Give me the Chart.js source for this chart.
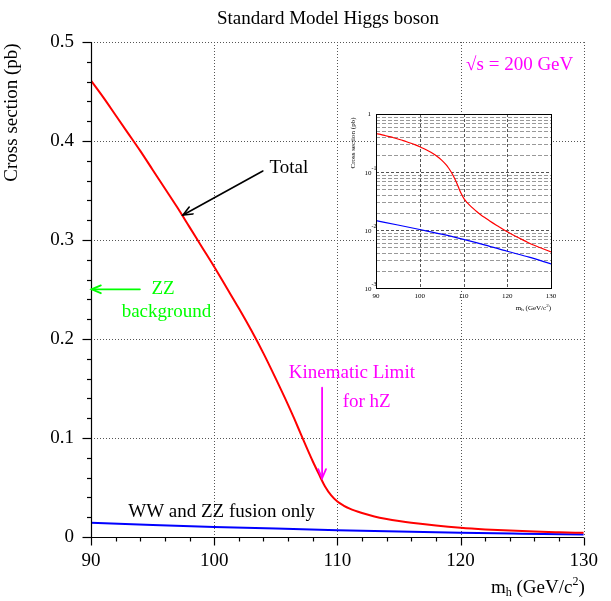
<!DOCTYPE html>
<html>
<head>
<meta charset="utf-8">
<script src="https://cdn.jsdelivr.net/npm/chart.js@4.4.1/dist/chart.umd.min.js"></script>
<style>
html,body{margin:0;padding:0;background:#fff;overflow:hidden;}
#wrap{position:relative;width:611px;height:601px;}
#main{position:absolute;left:0;top:0;}
#inset{position:absolute;left:340px;top:100px;}
</style>
</head>
<body>
<div id="wrap">
<canvas id="main" width="611" height="601"></canvas>
<canvas id="inset" width="220" height="230"></canvas>
</div>
<script>
// ---------------- data ----------------
const massPoints = [90,91,92,93,94,95,96,97,98,99,100,101,102,103,104,105,106,106.5,107,107.5,108,108.5,109,109.5,110,110.5,111,112,113,114,115,116,118,120,122,124,126,128,130];
const totalXS    = [0.461,0.444,0.426,0.408,0.390,0.371,0.352,0.333,0.313,0.293,0.273,0.252,0.231,0.209,0.1855,0.160,0.1335,0.1195,0.105,0.0905,0.0765,0.0635,0.0510,0.0420,0.0358,0.0318,0.0287,0.0243,0.0208,0.0182,0.0161,0.0143,0.0115,0.0093,0.0077,0.0065,0.0055,0.0048,0.0042];
const fusionMass = [90,95,100,105,110,115,120,125,130];
const fusionXS   = [0.0145,0.0122,0.0102,0.0085,0.0069,0.0055,0.0043,0.0034,0.0026];
const xTickValues = [90,100,110,120,130];
const yTickValues = [0,0.1,0.2,0.3,0.4,0.5];
const yTickLabels = ['0','0.1','0.2','0.3','0.4','0.5'];
const insetYTickValues = [1,0.1,0.01,0.001];
const insetYTickExps   = ['','-1','-2','-3'];

const FONT = '"Liberation Serif","Times New Roman",serif';
function pts(xs, ys){ return xs.map((x,i)=>({x:x, y:ys[i]})); }

function drawArrow(ctx,x1,y1,x2,y2,color,lw,headLen,headAng){
  ctx.save();
  ctx.strokeStyle=color; ctx.lineWidth=lw; ctx.lineCap='round'; ctx.lineJoin='miter';
  ctx.beginPath(); ctx.moveTo(x1,y1); ctx.lineTo(x2,y2); ctx.stroke();
  const a=Math.atan2(y2-y1,x2-x1);
  ctx.beginPath();
  ctx.moveTo(x2-headLen*Math.cos(a-headAng), y2-headLen*Math.sin(a-headAng));
  ctx.lineTo(x2,y2);
  ctx.lineTo(x2-headLen*Math.cos(a+headAng), y2-headLen*Math.sin(a+headAng));
  ctx.stroke();
  ctx.restore();
}

// annotations in data coordinates
const mainTexts = [
  {t:'\u221As = 200 GeV', x:120.45, y:0.4722, c:'#ff00ff'},
  {t:'Total', x:104.49, y:0.368, c:'#000'},
  {t:'ZZ', x:94.91, y:0.2455, c:'#00ff00'},
  {t:'background', x:92.49, y:0.2225, c:'#00ff00'},
  {t:'Kinematic Limit', x:106.06, y:0.1603, c:'#ff00ff'},
  {t:'for hZ', x:110.43, y:0.1316, c:'#ff00ff'},
  {t:'WW and ZZ fusion only', x:93.02, y:0.0205, c:'#000'}
];
const mainArrows = [
  {x1:103.95,y1:0.3697,x2:97.47,y2:0.3253,c:'#000',lw:1.6},
  {x1:93.97,y1:0.2502,x2:90.05,y2:0.2502,c:'#00ff00',lw:1.8},
  {x1:108.76,y1:0.1508,x2:108.76,y2:0.0593,c:'#ff00ff',lw:1.8}
];

const mainDecor = {
  id:'mainDecor',
  beforeDatasetsDraw(chart){
    const ctx=chart.ctx, a=chart.chartArea, xs=chart.scales.x, ys=chart.scales.y;
    ctx.save();
    ctx.strokeStyle='#555'; ctx.lineWidth=1; ctx.setLineDash([1,2]);
    xTickValues.forEach(v=>{
      const px=Math.round(xs.getPixelForValue(v))+0.5;
      ctx.beginPath(); ctx.moveTo(px,a.top); ctx.lineTo(px,a.bottom); ctx.stroke();
    });
    yTickValues.forEach(v=>{
      const py=Math.round(ys.getPixelForValue(v))+0.5;
      ctx.beginPath(); ctx.moveTo(a.left,py); ctx.lineTo(a.right,py); ctx.stroke();
    });
    ctx.restore();
  },
  afterDatasetsDraw(chart){
    const ctx=chart.ctx, a=chart.chartArea, xs=chart.scales.x, ys=chart.scales.y;
    ctx.save();
    ctx.strokeStyle='#000'; ctx.lineWidth=1.2; ctx.setLineDash([]);
    const lx=Math.round(a.left)+0.5, by=Math.round(a.bottom)+0.5;
    ctx.beginPath(); ctx.moveTo(lx,a.top); ctx.lineTo(lx,by); ctx.lineTo(a.right,by); ctx.stroke();
    for(let v=90; v<=130.001; v+=2){
      const px=Math.round(xs.getPixelForValue(v))+0.5;
      const major=Math.abs(v%10)<1e-6;
      ctx.beginPath(); ctx.moveTo(px,by); ctx.lineTo(px,by+(major?8:4)); ctx.stroke();
    }
    for(let i=0;i<=25;i++){
      const v=i*0.02;
      const py=Math.round(ys.getPixelForValue(v))+0.5;
      const major=(i%5===0);
      ctx.beginPath(); ctx.moveTo(lx,py); ctx.lineTo(lx-(major?9:4.5),py); ctx.stroke();
    }
    ctx.fillStyle='#000';
    ctx.font='19px '+FONT; ctx.textAlign='center'; ctx.textBaseline='alphabetic';
    ctx.fillText('Standard Model Higgs boson', 328, 24);
    ctx.save(); ctx.translate(16.5, 112.5); ctx.rotate(-Math.PI/2);
    ctx.textAlign='center'; ctx.fillText('Cross section (pb)',0,0); ctx.restore();
    const big='19px '+FONT, small='12px '+FONT;
    ctx.textAlign='left';
    ctx.font=big; const wm=ctx.measureText('m').width;
    ctx.font=small; const wh=ctx.measureText('h').width;
    ctx.font=big; const wg=ctx.measureText(' (GeV/c').width;
    ctx.font=small; const w2=ctx.measureText('2').width;
    ctx.font=big; const wp=ctx.measureText(')').width;
    let x0=a.right+1-(wm+wh+wg+w2+wp); const base=593;
    ctx.font=big; ctx.fillText('m',x0,base); x0+=wm;
    ctx.font=small; ctx.fillText('h',x0,base+3); x0+=wh;
    ctx.font=big; ctx.fillText(' (GeV/c',x0,base); x0+=wg;
    ctx.font=small; ctx.fillText('2',x0,base-8); x0+=w2;
    ctx.font=big; ctx.fillText(')',x0,base);
    ctx.font='19px '+FONT; ctx.textAlign='left'; ctx.textBaseline='alphabetic';
    mainTexts.forEach(o=>{ ctx.fillStyle=o.c; ctx.fillText(o.t, xs.getPixelForValue(o.x), ys.getPixelForValue(o.y)); });
    mainArrows.forEach(o=>{
      drawArrow(ctx, xs.getPixelForValue(o.x1), ys.getPixelForValue(o.y1), xs.getPixelForValue(o.x2), ys.getPixelForValue(o.y2), o.c, o.lw, 10, 0.4);
    });
    ctx.restore();
  }
};

new Chart(document.getElementById('main'), {
  type:'line',
  data:{datasets:[
    {data:pts(massPoints,totalXS), borderColor:'#ff0000', borderWidth:2, pointRadius:0, cubicInterpolationMode:'monotone', fill:false},
    {data:pts(fusionMass,fusionXS), borderColor:'#0000ff', borderWidth:2, pointRadius:0, cubicInterpolationMode:'monotone', fill:false}
  ]},
  options:{
    responsive:false, animation:false, devicePixelRatio:1,
    layout:{padding:{left:0,top:42,right:26,bottom:0}},
    plugins:{legend:{display:false}, tooltip:{enabled:false}, title:{display:false}},
    scales:{
      x:{type:'linear', min:90, max:130,
        afterBuildTicks:s=>{ s.ticks=xTickValues.map(v=>({value:v})); },
        afterFit:s=>{ s.height=64; },
        ticks:{color:'#000', font:{family:FONT,size:19}, padding:13, maxRotation:0, autoSkip:false, callback:v=>String(v)},
        grid:{display:false, drawTicks:false}, border:{display:false}},
      y:{type:'linear', min:0, max:0.5,
        afterBuildTicks:s=>{ s.ticks=yTickValues.map(v=>({value:v})); },
        afterFit:s=>{ s.width=91; },
        ticks:{color:'#000', font:{family:FONT,size:19}, padding:17, autoSkip:false, callback:(v,i)=>yTickLabels[i]},
        grid:{display:false, drawTicks:false}, border:{display:false}}
    }
  },
  plugins:[mainDecor]
});

// ---------------- inset ----------------
const insetDecor = {
  id:'insetDecor',
  beforeDraw(chart){
    const ctx=chart.ctx, a=chart.chartArea;
    ctx.save(); ctx.fillStyle='#fff'; ctx.fillRect(a.left,a.top,a.right-a.left,a.bottom-a.top); ctx.restore();
  },
  beforeDatasetsDraw(chart){
    const ctx=chart.ctx, a=chart.chartArea, xs=chart.scales.x, ys=chart.scales.y;
    ctx.save(); ctx.lineWidth=1;
    [0.001,0.01,0.1].forEach(d=>{
      for(let m=1;m<=9;m++){
        if(m===1 && d===0.001) continue;
        const py=Math.round(ys.getPixelForValue(m*d))+0.5;
        ctx.strokeStyle = m===1 ? '#555' : '#999';
        ctx.setLineDash(m===1?[3,2]:[4,2]);
        ctx.beginPath(); ctx.moveTo(a.left,py); ctx.lineTo(a.right,py); ctx.stroke();
      }
    });
    ctx.strokeStyle='#555'; ctx.setLineDash([3,2]);
    [100,110,120].forEach(v=>{
      const px=Math.round(xs.getPixelForValue(v))+0.5;
      ctx.beginPath(); ctx.moveTo(px,a.top); ctx.lineTo(px,a.bottom); ctx.stroke();
    });
    ctx.restore();
  },
  afterDatasetsDraw(chart){
    const ctx=chart.ctx, a=chart.chartArea, xs=chart.scales.x, ys=chart.scales.y;
    ctx.save();
    ctx.strokeStyle='#000'; ctx.lineWidth=1; ctx.setLineDash([]);
    ctx.strokeRect(Math.round(a.left)+0.5, Math.round(a.top)+0.5, Math.round(a.right-a.left), Math.round(a.bottom-a.top));
    ctx.fillStyle='#000';
    insetYTickValues.forEach((v,i)=>{
      const py=ys.getPixelForValue(v);
      if(insetYTickExps[i]===''){
        ctx.font='7px '+FONT; ctx.textAlign='right'; ctx.textBaseline='middle';
        ctx.fillText('1', a.left-5, py);
      } else {
        ctx.font='7px '+FONT; ctx.textAlign='right'; ctx.textBaseline='middle';
        ctx.fillText('10', a.left-4.5, py+1.5);
        ctx.font='6px '+FONT; ctx.textAlign='left'; ctx.textBaseline='alphabetic';
        ctx.fillText(insetYTickExps[i], a.left-4.5, py-2.2);
      }
    });
    ctx.font='7px '+FONT; ctx.textAlign='center'; ctx.textBaseline='alphabetic';
    xTickValues.forEach(v=>{ ctx.fillText(String(v), xs.getPixelForValue(v), a.bottom+9.5); });
    const big='7px '+FONT, small='5px '+FONT;
    ctx.textAlign='left';
    ctx.font=big; const wm=ctx.measureText('m').width;
    ctx.font=small; const wh=ctx.measureText('h').width;
    ctx.font=big; const wg=ctx.measureText(' (GeV/c').width;
    ctx.font=small; const w2=ctx.measureText('2').width;
    ctx.font=big; const wp=ctx.measureText(')').width;
    let x0=a.right-(wm+wh+wg+w2+wp); const base=a.bottom+22;
    ctx.font=big; ctx.fillText('m',x0,base); x0+=wm;
    ctx.font=small; ctx.fillText('h',x0,base+1.2); x0+=wh;
    ctx.font=big; ctx.fillText(' (GeV/c',x0,base); x0+=wg;
    ctx.font=small; ctx.fillText('2',x0,base-3); x0+=w2;
    ctx.font=big; ctx.fillText(')',x0,base);
    ctx.save(); ctx.translate(15, 43); ctx.rotate(-Math.PI/2);
    ctx.font='7px '+FONT; ctx.textAlign='center'; ctx.fillText('Cross section (pb)',0,0); ctx.restore();
    ctx.restore();
  }
};

new Chart(document.getElementById('inset'), {
  type:'line',
  data:{datasets:[
    {data:pts(massPoints,totalXS), borderColor:'#ff0000', borderWidth:1.2, pointRadius:0, cubicInterpolationMode:'monotone', fill:false},
    {data:pts(fusionMass,fusionXS), borderColor:'#0000ff', borderWidth:1.2, pointRadius:0, cubicInterpolationMode:'monotone', fill:false}
  ]},
  options:{
    responsive:false, animation:false, devicePixelRatio:1,
    layout:{padding:{left:0,top:14,right:9,bottom:0}},
    plugins:{legend:{display:false}, tooltip:{enabled:false}, title:{display:false}},
    scales:{
      x:{type:'linear', min:90, max:130, afterFit:s=>{ s.height=42; },
        ticks:{display:false}, grid:{display:false, drawTicks:false}, border:{display:false}},
      y:{type:'logarithmic', min:0.001, max:1, afterFit:s=>{ s.width=36; },
        ticks:{display:false}, grid:{display:false, drawTicks:false}, border:{display:false}}
    }
  },
  plugins:[insetDecor]
});
</script>
</body>
</html>
